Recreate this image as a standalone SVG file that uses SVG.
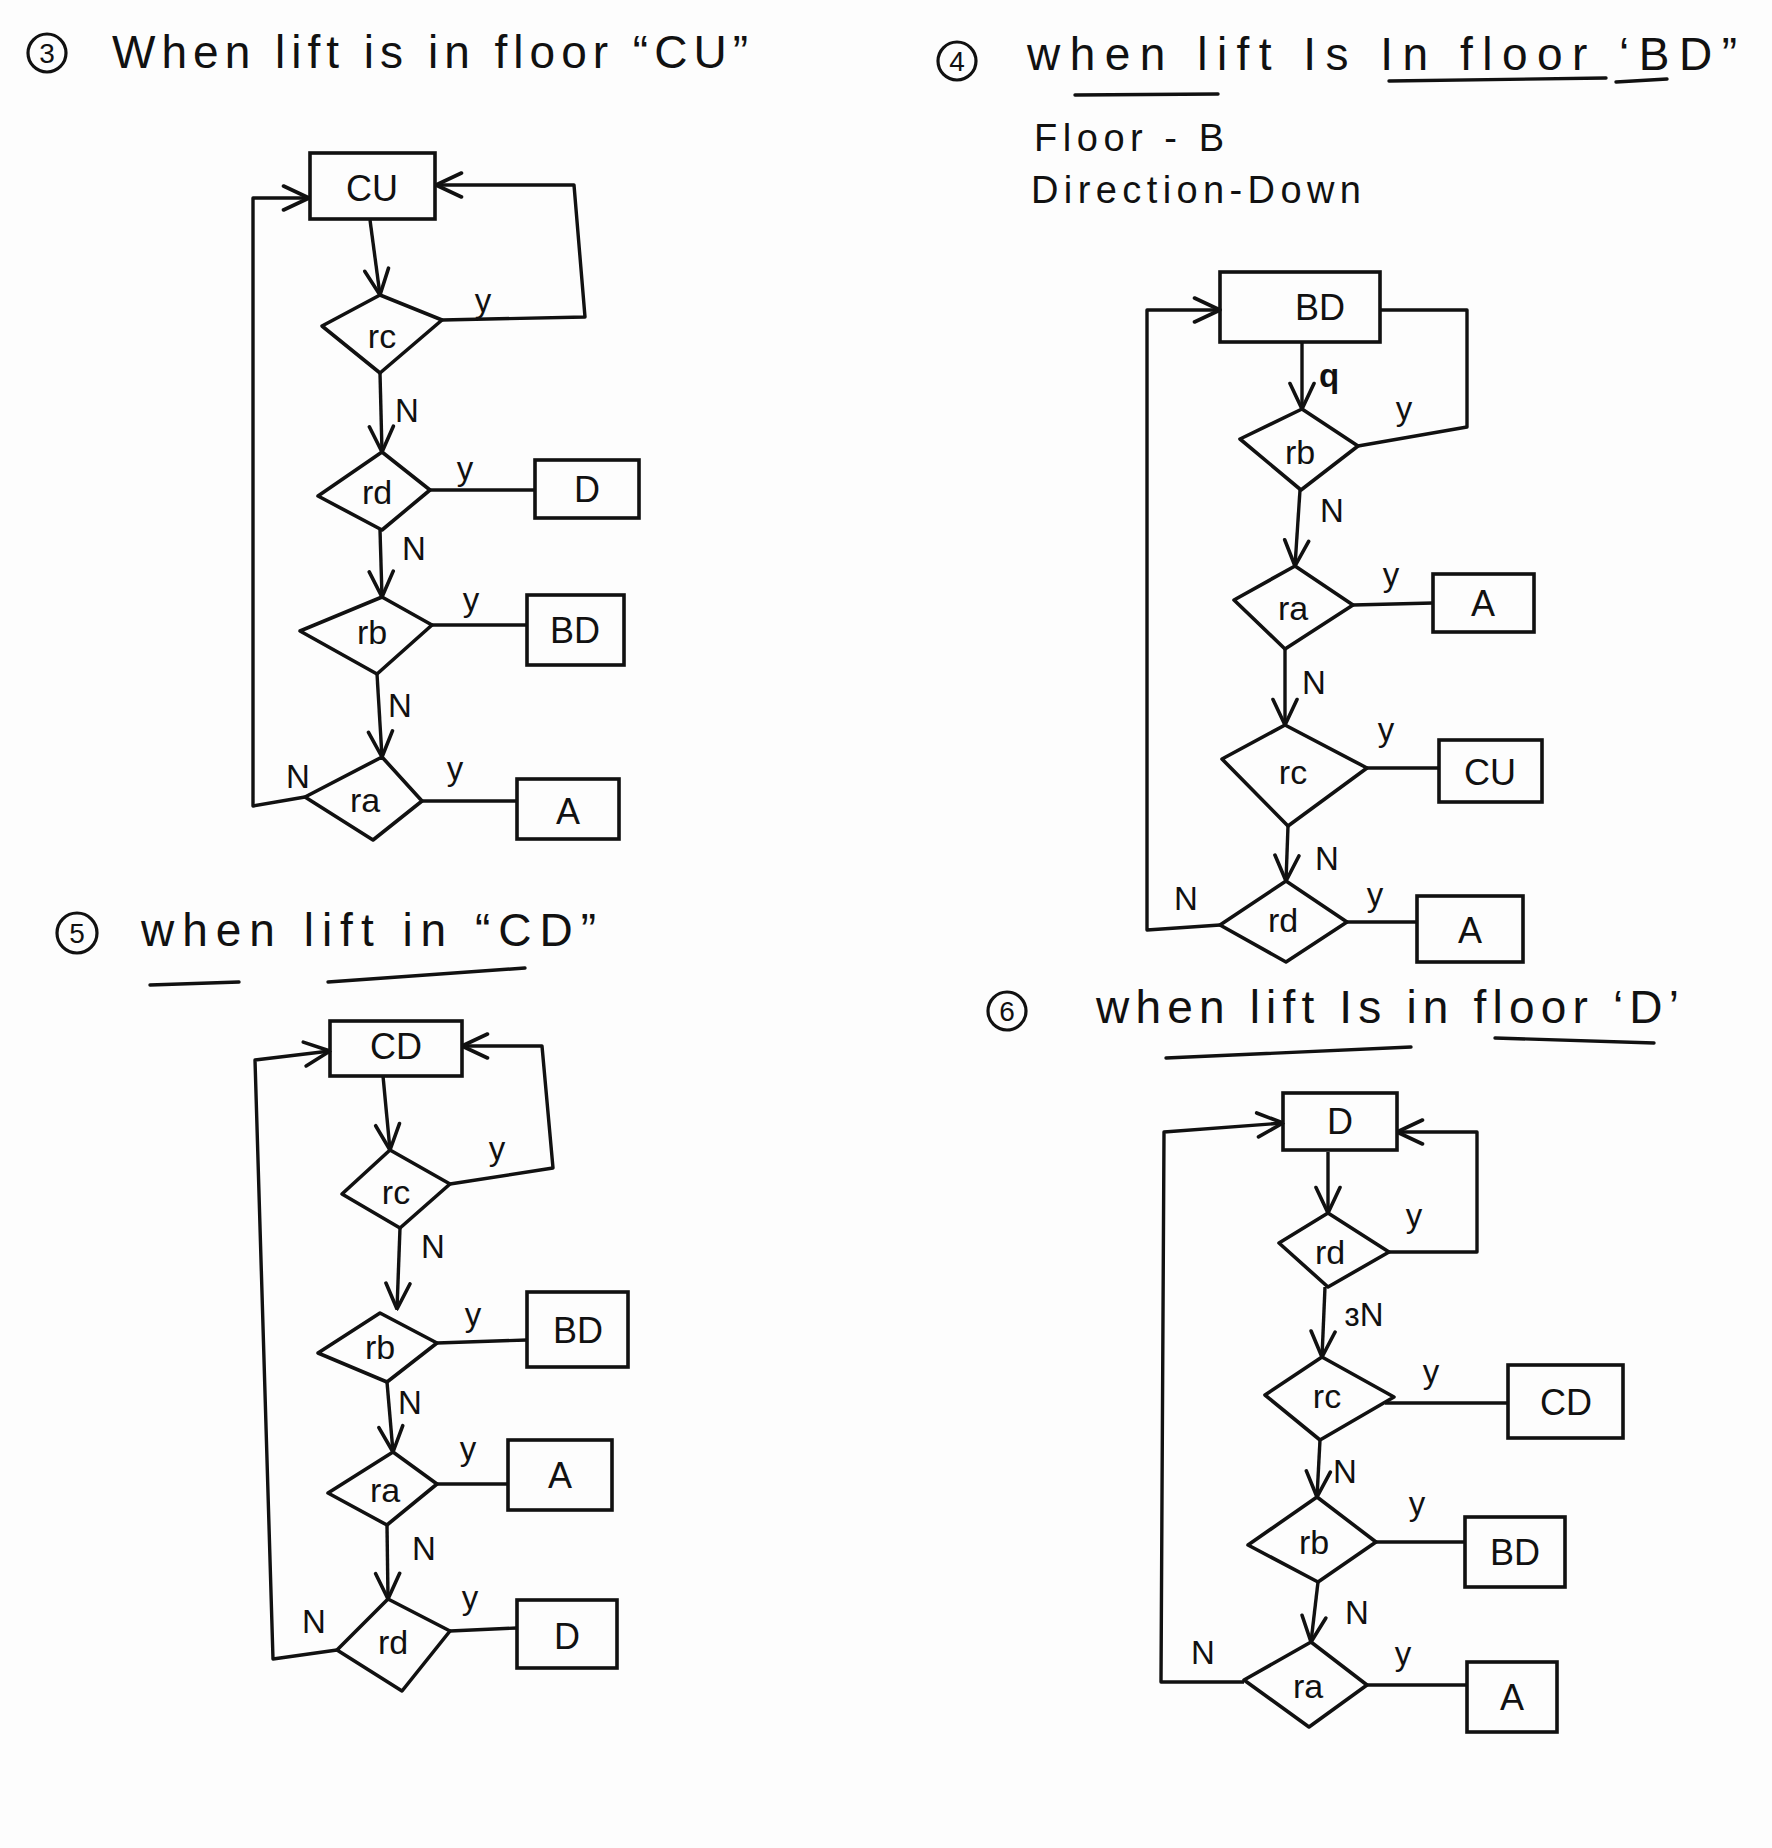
<svg xmlns="http://www.w3.org/2000/svg" width="1772" height="1848" viewBox="0 0 1772 1848">
<style>
.bg{fill:#fdfdfd}
.box{fill:none;stroke:#111;stroke-width:3.6}
.dia{fill:none;stroke:#111;stroke-width:3.6;stroke-linejoin:round}
.ln{fill:none;stroke:#111;stroke-width:3.4;stroke-linejoin:round}
.ul{fill:none;stroke:#111;stroke-width:3.4;stroke-linecap:round}
.t{font-family:"Liberation Sans",Arial,sans-serif;fill:#111}
.title{font-size:46px}
.sub{font-size:38px}
.num{font-size:28px;text-anchor:middle;dominant-baseline:central}
.bl{font-size:36px;text-anchor:middle;dominant-baseline:central}
.dl{font-size:34px;text-anchor:middle;dominant-baseline:central}
.lb{font-size:33px;text-anchor:middle;dominant-baseline:central}
.circ{fill:none;stroke:#111;stroke-width:3.2}
</style>
<defs>
<marker id="arr" viewBox="0 0 20 20" refX="19" refY="10" markerWidth="30" markerHeight="30" markerUnits="userSpaceOnUse" orient="auto">
<path d="M2,2 L19,10 L2,18" fill="none" stroke="#111" stroke-width="2.4" stroke-linecap="round" stroke-linejoin="round"/>
</marker>
</defs>
<rect class="bg" x="0" y="0" width="1772" height="1848"/>

<!-- Titles -->
<g id="title3">
<circle class="circ" cx="47" cy="53" r="19"/>
<text class="t num" x="47" y="53">3</text>
<text class="t title" x="112" y="68" textLength="636" lengthAdjust="spacing">When lift is in floor “CU”</text>
</g>
<g id="title4">
<circle class="circ" cx="957" cy="61" r="19"/>
<text class="t num" x="957" y="61">4</text>
<text class="t title" x="1027" y="70" textLength="710" lengthAdjust="spacing">when lift Is In floor ‘BD”</text>
<path class="ul" d="M1075,95 L1218,94"/>
<path class="ul" d="M1389,81 L1606,78"/>
<path class="ul" d="M1616,82 L1667,79"/>
<text class="t sub" x="1034" y="151" textLength="190" lengthAdjust="spacing">Floor - B</text>
<text class="t sub" x="1031" y="203" textLength="330" lengthAdjust="spacing">Direction-Down</text>
</g>
<g id="title5">
<circle class="circ" cx="77" cy="933" r="20"/>
<text class="t num" x="77" y="933">5</text>
<text class="t title" x="141" y="946" textLength="455" lengthAdjust="spacing">when lift in “CD”</text>
<path class="ul" d="M150,985 L239,982" stroke-width="4.5"/>
<path class="ul" d="M328,982 L525,968"/>
</g>
<g id="title6">
<circle class="circ" cx="1007" cy="1011" r="19"/>
<text class="t num" x="1007" y="1011">6</text>
<text class="t title" x="1096" y="1023" textLength="583" lengthAdjust="spacing">when lift Is in floor ‘D’</text>
<path class="ul" d="M1166,1058 L1411,1047"/>
<path class="ul" d="M1495,1038 L1654,1043"/>
</g>

<!-- Connectors -->
<g id="connectors">
<!-- diagram 3 -->
<path class="ln" d="M370,220 L380,295" marker-end="url(#arr)"/>
<path class="ln" d="M380,373 L382,452" marker-end="url(#arr)"/>
<path class="ln" d="M380,530 L382,597" marker-end="url(#arr)"/>
<path class="ln" d="M377,674 L382,757" marker-end="url(#arr)"/>
<path class="ln" d="M442,320 L585,317 L574,185 L436,185" marker-end="url(#arr)"/>
<path class="ln" d="M305,797 L253,806 L253,198 L309,198" marker-end="url(#arr)"/>
<path class="ln" d="M430,490 L535,490"/>
<path class="ln" d="M432,625 L527,625"/>
<path class="ln" d="M422,801 L517,801"/>
<!-- diagram 4 -->
<path class="ln" d="M1302,342 L1302,409" marker-end="url(#arr)"/>
<path class="ln" d="M1300,490 L1295,566" marker-end="url(#arr)"/>
<path class="ln" d="M1285,649 L1285,725" marker-end="url(#arr)"/>
<path class="ln" d="M1288,826 L1286,881" marker-end="url(#arr)"/>
<path class="ln" d="M1220,925 L1147,930 L1147,310 L1220,310" marker-end="url(#arr)"/>
<path class="ln" d="M1358,446 L1467,427 L1467,310 L1381,310"/>
<path class="ln" d="M1353,605 L1433,603"/>
<path class="ln" d="M1367,768 L1439,768"/>
<path class="ln" d="M1347,922 L1417,922"/>
<!-- diagram 5 -->
<path class="ln" d="M383,1076 L390,1150" marker-end="url(#arr)"/>
<path class="ln" d="M400,1228 L397,1309" marker-end="url(#arr)"/>
<path class="ln" d="M387,1382 L393,1452" marker-end="url(#arr)"/>
<path class="ln" d="M387,1525 L388,1599" marker-end="url(#arr)"/>
<path class="ln" d="M337,1650 L273,1659 L255,1060 L330,1051" marker-end="url(#arr)"/>
<path class="ln" d="M450,1184 L553,1168 L542,1046 L462,1046" marker-end="url(#arr)"/>
<path class="ln" d="M437,1343 L527,1340"/>
<path class="ln" d="M437,1484 L508,1484"/>
<path class="ln" d="M450,1631 L517,1628"/>
<!-- diagram 6 -->
<path class="ln" d="M1328,1152 L1328,1213" marker-end="url(#arr)"/>
<path class="ln" d="M1325,1287 L1322,1357" marker-end="url(#arr)"/>
<path class="ln" d="M1320,1440 L1317,1497" marker-end="url(#arr)"/>
<path class="ln" d="M1318,1582 L1311,1642" marker-end="url(#arr)"/>
<path class="ln" d="M1244,1682 L1161,1682 L1164,1132 L1283,1123" marker-end="url(#arr)"/>
<path class="ln" d="M1389,1252 L1477,1252 L1477,1132 L1397,1132" marker-end="url(#arr)"/>
<path class="ln" d="M1385,1403 L1508,1403"/>
<path class="ln" d="M1376,1542 L1465,1542"/>
<path class="ln" d="M1367,1685 L1467,1685"/>
</g>

<!-- Connector labels -->
<g id="labels">
<text class="t lb" x="483" y="300">y</text>
<text class="t lb" x="407" y="410">N</text>
<text class="t lb" x="465" y="468">y</text>
<text class="t lb" x="414" y="548">N</text>
<text class="t lb" x="471" y="599">y</text>
<text class="t lb" x="400" y="705">N</text>
<text class="t lb" x="298" y="776">N</text>
<text class="t lb" x="455" y="768">y</text>

<text class="t lb" x="1329" y="375" font-weight="bold">q</text>
<text class="t lb" x="1404" y="408">y</text>
<text class="t lb" x="1332" y="510">N</text>
<text class="t lb" x="1391" y="574">y</text>
<text class="t lb" x="1314" y="682">N</text>
<text class="t lb" x="1386" y="729">y</text>
<text class="t lb" x="1327" y="858">N</text>
<text class="t lb" x="1186" y="898">N</text>
<text class="t lb" x="1375" y="894">y</text>

<text class="t lb" x="497" y="1148">y</text>
<text class="t lb" x="433" y="1246">N</text>
<text class="t lb" x="473" y="1314">y</text>
<text class="t lb" x="410" y="1402">N</text>
<text class="t lb" x="468" y="1448">y</text>
<text class="t lb" x="424" y="1548">N</text>
<text class="t lb" x="314" y="1621">N</text>
<text class="t lb" x="470" y="1597">y</text>

<text class="t lb" x="1414" y="1215">y</text>
<text class="t lb" x="1364" y="1314">ɜN</text>
<text class="t lb" x="1431" y="1371">y</text>
<text class="t lb" x="1345" y="1471">N</text>
<text class="t lb" x="1417" y="1503">y</text>
<text class="t lb" x="1357" y="1612">N</text>
<text class="t lb" x="1203" y="1652">N</text>
<text class="t lb" x="1403" y="1653">y</text>
</g>

<!-- Diagram 3 nodes -->
<g id="d3-CU"><rect class="box" x="310" y="153" width="125" height="66"/><text class="t bl" x="372" y="188">CU</text></g>
<g id="d3-rc"><polygon class="dia" points="380,295 442,320 380,373 322,326"/><text class="t dl" x="382" y="336">rc</text></g>
<g id="d3-rd"><polygon class="dia" points="382,452 430,490 382,530 318,496"/><text class="t dl" x="377" y="492">rd</text></g>
<g id="d3-D"><rect class="box" x="535" y="460" width="104" height="58"/><text class="t bl" x="587" y="489">D</text></g>
<g id="d3-rb"><polygon class="dia" points="382,597 432,625 377,674 300,631"/><text class="t dl" x="372" y="632">rb</text></g>
<g id="d3-BD"><rect class="box" x="527" y="595" width="97" height="70"/><text class="t bl" x="575" y="630">BD</text></g>
<g id="d3-ra"><polygon class="dia" points="382,757 422,801 373,840 305,797"/><text class="t dl" x="365" y="800">ra</text></g>
<g id="d3-A"><rect class="box" x="517" y="779" width="102" height="60"/><text class="t bl" x="568" y="811">A</text></g>

<!-- Diagram 4 nodes -->
<g id="d4-BD"><rect class="box" x="1220" y="272" width="160" height="70"/><text class="t bl" x="1320" y="307">BD</text></g>
<g id="d4-rb"><polygon class="dia" points="1302,409 1358,446 1301,490 1240,439"/><text class="t dl" x="1300" y="452">rb</text></g>
<g id="d4-ra"><polygon class="dia" points="1295,566 1353,605 1285,649 1234,600"/><text class="t dl" x="1293" y="608">ra</text></g>
<g id="d4-A1"><rect class="box" x="1433" y="574" width="101" height="58"/><text class="t bl" x="1483" y="603">A</text></g>
<g id="d4-rc"><polygon class="dia" points="1285,725 1367,768 1288,826 1222,759"/><text class="t dl" x="1293" y="772">rc</text></g>
<g id="d4-CU"><rect class="box" x="1439" y="740" width="103" height="62"/><text class="t bl" x="1490" y="772">CU</text></g>
<g id="d4-rd"><polygon class="dia" points="1286,881 1347,922 1286,962 1220,925"/><text class="t dl" x="1283" y="920">rd</text></g>
<g id="d4-A2"><rect class="box" x="1417" y="896" width="106" height="66"/><text class="t bl" x="1470" y="930">A</text></g>

<!-- Diagram 5 nodes -->
<g id="d5-CD"><rect class="box" x="330" y="1021" width="132" height="55"/><text class="t bl" x="396" y="1046">CD</text></g>
<g id="d5-rc"><polygon class="dia" points="390,1150 450,1184 400,1228 342,1194"/><text class="t dl" x="396" y="1192">rc</text></g>
<g id="d5-rb"><polygon class="dia" points="380,1313 437,1343 387,1382 318,1353"/><text class="t dl" x="380" y="1347">rb</text></g>
<g id="d5-BD"><rect class="box" x="527" y="1292" width="101" height="75"/><text class="t bl" x="578" y="1330">BD</text></g>
<g id="d5-ra"><polygon class="dia" points="393,1452 437,1484 387,1525 328,1493"/><text class="t dl" x="385" y="1490">ra</text></g>
<g id="d5-A"><rect class="box" x="508" y="1440" width="104" height="70"/><text class="t bl" x="560" y="1475">A</text></g>
<g id="d5-rd"><polygon class="dia" points="388,1599 450,1631 402,1691 337,1650"/><text class="t dl" x="393" y="1642">rd</text></g>
<g id="d5-D"><rect class="box" x="517" y="1600" width="100" height="68"/><text class="t bl" x="567" y="1636">D</text></g>

<!-- Diagram 6 nodes -->
<g id="d6-D"><rect class="box" x="1283" y="1093" width="114" height="57"/><text class="t bl" x="1340" y="1121">D</text></g>
<g id="d6-rd"><polygon class="dia" points="1328,1213 1389,1252 1328,1287 1279,1243"/><text class="t dl" x="1330" y="1252">rd</text></g>
<g id="d6-rc"><polygon class="dia" points="1322,1357 1394,1397 1320,1440 1265,1395"/><text class="t dl" x="1327" y="1396">rc</text></g>
<g id="d6-CD"><rect class="box" x="1508" y="1365" width="115" height="73"/><text class="t bl" x="1566" y="1402">CD</text></g>
<g id="d6-rb"><polygon class="dia" points="1317,1497 1376,1542 1318,1582 1248,1545"/><text class="t dl" x="1314" y="1542">rb</text></g>
<g id="d6-BD"><rect class="box" x="1465" y="1517" width="100" height="70"/><text class="t bl" x="1515" y="1552">BD</text></g>
<g id="d6-ra"><polygon class="dia" points="1311,1642 1367,1685 1309,1727 1244,1680"/><text class="t dl" x="1308" y="1686">ra</text></g>
<g id="d6-A"><rect class="box" x="1467" y="1662" width="90" height="70"/><text class="t bl" x="1512" y="1697">A</text></g>
</svg>
